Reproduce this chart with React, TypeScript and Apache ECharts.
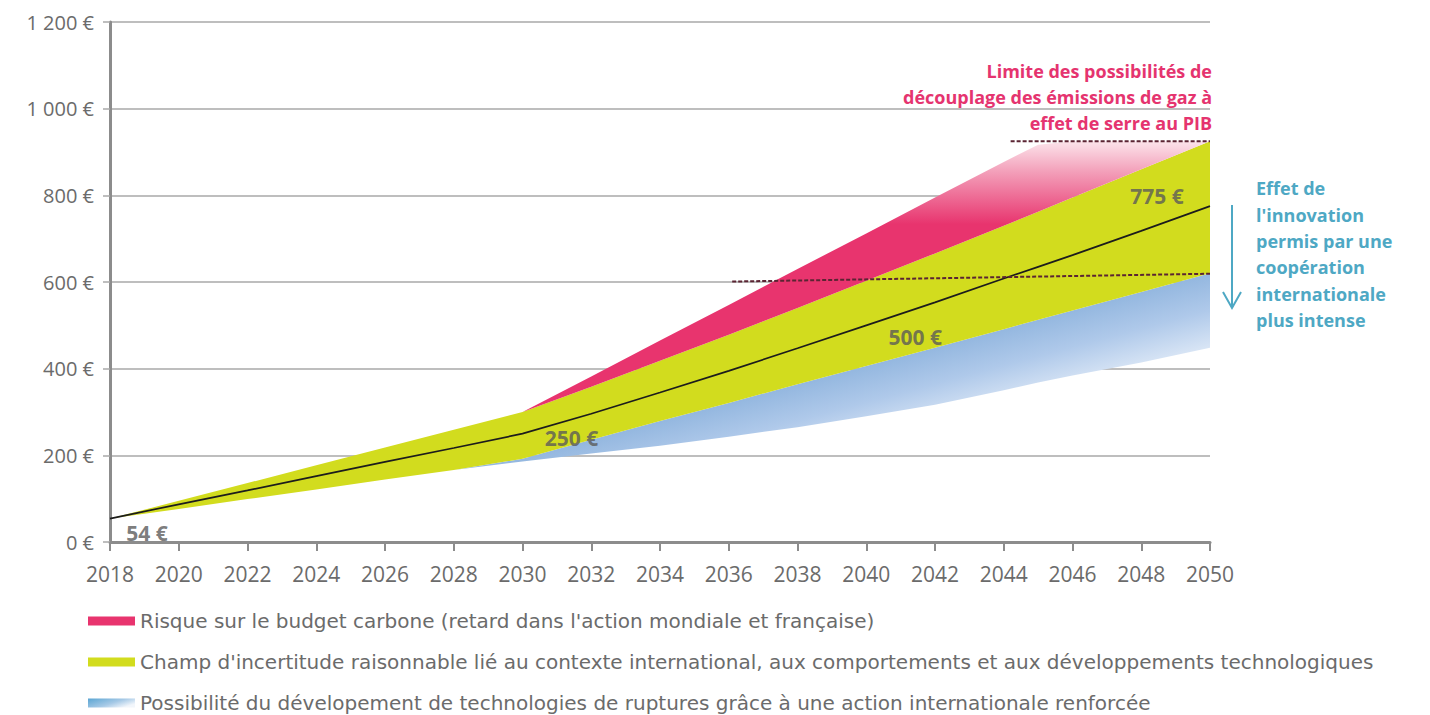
import React, { useEffect, useRef } from "react";
import * as echarts from "echarts";

// ---- Data ----
const years = [2018, 2020, 2022, 2024, 2026, 2028, 2030, 2032, 2034, 2036, 2038, 2040, 2042, 2044, 2045, 2046, 2048, 2050];
const centralPrice = [54, 87, 119, 152, 185, 217, 250, 296, 345, 395, 447, 500, 553, 608, 635, 662, 718, 775];
const blueLow = [54, 76, 99, 121, 144, 166, 186, 204, 222, 243, 265, 290, 317, 350, 368, 384, 414, 448];
const yellowLow = [54, 76, 99, 121, 144, 166, 192, 236, 279, 321, 364, 406, 448, 491, 513, 534, 577, 620];
const yellowHigh = [54, 95, 136, 177, 218, 259, 300, 358, 418, 478, 540, 603, 666, 730, 762, 795, 860, 925];
const pinkHigh = [54, 95, 136, 177, 218, 259, 300, 382, 465, 547, 630, 712, 795, 877, 917, 925, 925, 925];

const limitHighLine = [[2044.2, 925], [2050, 925]];
const limitLowLine = [[2036.1, 601], [2050, 619]];

const valueLabelYears = [2018, 2030, 2040, 2050];
const valueLabelValues = [54, 250, 500, 775];

const yTickLabels = ["0 €", "200 €", "400 €", "600 €", "800 €", "1 000 €", "1 200 €"];

const legendNames = [
  "Risque sur le budget carbone (retard dans l'action mondiale et française)",
  "Champ d'incertitude raisonnable lié au contexte international, aux comportements et aux développements technologiques",
  "Possibilité du dévelopement de technologies de ruptures grâce à une action internationale renforcée",
];

const annotationPink = ["Limite des possibilités de", "découplage des émissions de gaz à", "effet de serre au PIB"];
const annotationTeal = ["Effet de", "l'innovation", "permis par une", "coopération", "internationale", "plus intense"];

// ---- Styles ----
const FONT = '"Open Sans", "Noto Sans", sans-serif';
const LEGEND_FONT = '"DejaVu Sans", "Open Sans", sans-serif';
const PINK = "#e8346e";
const YELLOW = "#d2dc1e";
const TEXT_GRAY = "#5a5a5a";
const LABEL_GRAY = "#6b6b6b";
const AXIS_GRAY = "#8c8c8c";
const GRID_GRAY = "#a8a8a8";
const TEAL = "#4ea8c4";
const LIMIT_COLOR = "#5b2433";

const labelOffsets = [[37, 14], [49, 4], [49, 12], [-53, -10]];

export default function App() {
  const ref = useRef<HTMLDivElement>(null);

  useEffect(() => {
    if (!ref.current) return;
    const chart = echarts.init(ref.current, undefined, { renderer: "svg" });

    // rows are [value, year] so that stacking applies to the value (y) dimension
    const rows = (arr: number[]) => years.map((y, i) => [arr[i], y]);
    const diffRows = (a: number[], b: number[]) => years.map((y, i) => [a[i] - b[i], y]);

    const pinkFill = new echarts.graphic.LinearGradient(0, 0, 0, 1, [
      { offset: 0, color: "#fce4eb" },
      { offset: 0.08, color: "#f3a0ba" },
      { offset: 0.22, color: PINK },
      { offset: 1, color: PINK },
    ]);
    const blueFill = new echarts.graphic.LinearGradient(860, 369, 885, 462, [
      { offset: 0, color: "#95b8e0" },
      { offset: 0.35, color: "#afc9ea" },
      { offset: 1, color: "#f6f9fd" },
    ], true);
    const blueLegend = new echarts.graphic.LinearGradient(0, 0, 1, 0.6, [
      { offset: 0, color: "#5aa5d3" },
      { offset: 0.6, color: "#a6c9e6" },
      { offset: 1, color: "#f2f6fb" },
    ]);

    const bandSeries = (name: string, data: number[][], fill: any, color: string, z: number) => ({
      name,
      type: "line",
      stack: "bands",
      data,
      encode: { x: 1, y: 0 },
      showSymbol: false,
      symbol: "none",
      silent: true,
      z,
      itemStyle: { color },
      lineStyle: { width: 0, color },
      areaStyle: { color: fill, opacity: 1 },
    });

    chart.setOption({
      animation: false,
      grid: { left: 110, right: 220, top: 22, bottom: 173, containLabel: false },
      legend: {
        orient: "vertical",
        left: 88,
        top: 610,
        height: 110,
        padding: 0,
        itemWidth: 47,
        itemHeight: 9,
        itemGap: 19,
        selectedMode: false,
        icon: "rect",
        itemStyle: { borderWidth: 0 },
        textStyle: { color: LABEL_GRAY, fontSize: 20, fontFamily: LEGEND_FONT, lineHeight: 22 },
        data: [
          { name: legendNames[0], icon: "rect", itemStyle: { color: PINK, borderWidth: 0 } },
          { name: legendNames[1], icon: "rect", itemStyle: { color: YELLOW, borderWidth: 0 } },
          { name: legendNames[2], icon: "rect", itemStyle: { color: blueLegend, borderWidth: 0 } },
        ],
      },
      xAxis: {
        type: "value",
        min: 2018,
        max: 2050,
        interval: 2,
        axisLine: { show: true, lineStyle: { color: AXIS_GRAY, width: 3 } },
        axisTick: { show: true, length: 9, lineStyle: { color: AXIS_GRAY, width: 2 } },
        axisLabel: { color: LABEL_GRAY, fontSize: 21, fontFamily: FONT, margin: 21, formatter: (v: number) => String(v) },
        splitLine: { show: false },
      },
      yAxis: {
        type: "value",
        min: 0,
        max: 1200,
        interval: 200,
        axisLine: { show: true, lineStyle: { color: AXIS_GRAY, width: 3 } },
        axisTick: { show: true, length: 7, lineStyle: { color: GRID_GRAY, width: 1.5 } },
        axisLabel: {
          color: LABEL_GRAY,
          fontSize: 20,
          fontFamily: FONT,
          margin: 16,
          formatter: (_v: number, i: number) => yTickLabels[i],
        },
        splitLine: { show: true, lineStyle: { color: GRID_GRAY, width: 1.5 } },
      },
      series: [
        {
          name: "base",
          type: "line",
          stack: "bands",
          data: rows(blueLow),
          encode: { x: 1, y: 0 },
          showSymbol: false,
          symbol: "none",
          silent: true,
          lineStyle: { width: 0, opacity: 0 },
          z: 1,
        },
        bandSeries(legendNames[2], diffRows(yellowLow, blueLow), blueFill, "#8db3de", 2),
        bandSeries(legendNames[1], diffRows(yellowHigh, yellowLow), YELLOW, YELLOW, 3),
        bandSeries(legendNames[0], diffRows(pinkHigh, yellowHigh), pinkFill, PINK, 4),
        {
          name: "central",
          type: "line",
          data: rows(centralPrice),
          encode: { x: 1, y: 0 },
          showSymbol: false,
          symbol: "none",
          silent: true,
          z: 6,
          lineStyle: { color: "#1c1c1c", width: 1.7 },
        },
        {
          name: "limitHigh",
          type: "line",
          data: limitHighLine,
          showSymbol: false,
          symbol: "none",
          silent: true,
          z: 7,
          lineStyle: { color: LIMIT_COLOR, width: 2, type: [4, 2] },
        },
        {
          name: "limitLow",
          type: "line",
          data: limitLowLine,
          showSymbol: false,
          symbol: "none",
          silent: true,
          z: 7,
          lineStyle: { color: LIMIT_COLOR, width: 2, type: [4, 2] },
        },
        {
          name: "valueLabels",
          type: "scatter",
          symbolSize: 0,
          silent: true,
          z: 8,
          data: valueLabelYears.map((y, i) => ({
            value: [y, valueLabelValues[i]],
            label: { offset: labelOffsets[i] },
          })),
          label: {
            show: true,
            position: "inside",
            formatter: (p: any) => `${p.value[1]} €`,
            color: TEXT_GRAY,
            fontSize: 21,
            fontWeight: "bold",
            fontFamily: FONT,
          },
        },
      ],
      graphic: [
        {
          type: "text",
          x: 1212,
          y: 58,
          silent: true,
          style: {
            text: annotationPink.join("\n"),
            fill: "#e5346f",
            font: `bold 18px ${FONT}`,
            align: "right",
            verticalAlign: "top",
            lineHeight: 26,
          },
        },
        {
          type: "text",
          x: 1256,
          y: 175,
          silent: true,
          style: {
            text: annotationTeal.join("\n"),
            fill: TEAL,
            font: `bold 18px ${FONT}`,
            align: "left",
            verticalAlign: "top",
            lineHeight: 26.4,
          },
        },
        {
          type: "line",
          silent: true,
          shape: { x1: 1232, y1: 205, x2: 1232, y2: 308 },
          style: { stroke: TEAL, lineWidth: 2 },
        },
        {
          type: "polyline",
          silent: true,
          shape: { points: [[1223, 292], [1232, 308], [1241, 292]] },
          style: { stroke: TEAL, lineWidth: 2, fill: "none" },
        },
      ],
    });

    return () => chart.dispose();
  }, []);

  return (
    <div
      ref={ref}
      style={{ position: "absolute", left: 0, top: 0, width: 1430, height: 715, background: "#fff" }}
    />
  );
}
